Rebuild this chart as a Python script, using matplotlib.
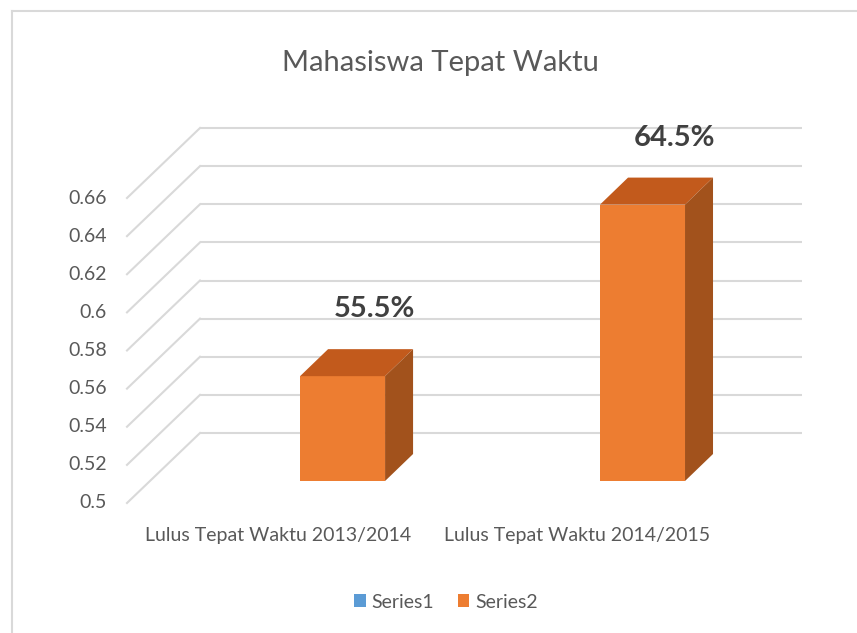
import matplotlib
matplotlib.use("Agg")
import matplotlib.pyplot as plt
from matplotlib.patches import Polygon, Patch
from matplotlib.lines import Line2D

# ---- data ----
categories = ["Lulus Tepat Waktu 2013/2014", "Lulus Tepat Waktu 2014/2015"]
series2 = [0.555, 0.645]
series2_labels = ["55.5%", "64.5%"]
yticks = [0.5, 0.52, 0.54, 0.56, 0.58, 0.6, 0.62, 0.64, 0.66]
ytick_labels = ["0.5", "0.52", "0.54", "0.56", "0.58", "0.6", "0.62", "0.64", "0.66"]
title = "Mahasiswa Tepat Waktu"
legend_names = ["Series1", "Series2"]

# ---- style ----
FW, FH = 857, 633
FRONT = "#ED7D31"
TOP = "#C25A1C"
SIDE = "#A2521C"
GRID = "#D9D9D9"
TXT = "#595959"
plt.rcParams["font.family"] = ["Lato", "DejaVu Sans"]

fig = plt.figure(figsize=(FW / 100, FH / 100), dpi=100)
# axes = plane of the bars' front faces
L, R, B, T = 150, 752, 481, 176
ax = fig.add_axes([L / FW, 1 - B / FH, (R - L) / FW, (B - T) / FH])
xlim = (-0.642, 1.365)
ylim = (0.5, 0.66)
ax.set_xlim(*xlim)
ax.set_ylim(*ylim)
ax.axis("off")
pxx = (xlim[1] - xlim[0]) / (R - L)
pxy = (ylim[1] - ylim[0]) / (B - T)

# back-wall depth offsets (pixels) relative to the bar plane
BX, BY = 50, 48
FX, FY = -23, -22  # front edge

for v, lab in zip(yticks, ytick_labels):
    ax.plot([xlim[0] + BX * pxx, xlim[1] + BX * pxx], [v + BY * pxy] * 2,
            color=GRID, lw=1.5, clip_on=False, zorder=0, solid_capstyle="butt")
    ax.plot([xlim[0] + FX * pxx, xlim[0] + BX * pxx], [v + FY * pxy, v + BY * pxy],
            color=GRID, lw=1.5, clip_on=False, zorder=0)
    ax.text(xlim[0] - 43 * pxx, v + FY * pxy, lab, ha="right", va="center",
            fontsize=14, color=TXT)

# bars with 3D look
w = 85 * pxx
dx, dy = 28 * pxx, 27 * pxy
xs = list(range(len(categories)))
ax.bar(xs, [v - ylim[0] for v in series2], bottom=ylim[0], width=w,
       color=FRONT, zorder=3, clip_on=False)
for x, v, lab in zip(xs, series2, series2_labels):
    xl, xr = x - w / 2, x + w / 2
    ax.add_patch(Polygon([(xl, v), (xr, v), (xr + dx, v + dy), (xl + dx, v + dy)],
                         closed=True, facecolor=TOP, edgecolor="none", zorder=3, clip_on=False))
    ax.add_patch(Polygon([(xr, ylim[0]), (xr + dx, ylim[0] + dy), (xr + dx, v + dy), (xr, v)],
                         closed=True, facecolor=SIDE, edgecolor="none", zorder=3, clip_on=False))
    ax.annotate(lab, xy=(x + dx, v + dy), xytext=(4 * 0.72, 40 * 0.72),
                textcoords="offset points", ha="center", va="center",
                fontsize=21, fontweight="bold", color="#404040", zorder=4)

for x, c in zip(xs, categories):
    ax.text(x - 65 * pxx, ylim[0] - 55 * pxy, c, ha="center", va="center",
            fontsize=14, color=TXT)

fig.text(440 / FW, 1 - 63 / FH, title, ha="center", va="center",
         fontsize=21, color=TXT, fontweight="normal")

handles = [Patch(facecolor="#5B9BD5"), Patch(facecolor=FRONT)]
fig.legend(handles, legend_names, loc="center", bbox_to_anchor=(446 / FW, 1 - 602 / FH),
           ncol=2, frameon=False, fontsize=14, labelcolor=TXT,
           handlelength=0.6, handleheight=0.6, handletextpad=0.3, columnspacing=1.2)

# chart frame
fig.add_artist(Line2D([12 / FW, 1], [1 - 11 / FH] * 2, color=GRID, lw=1.5))
fig.add_artist(Line2D([12 / FW] * 2, [0, 1 - 11 / FH], color=GRID, lw=1.5))

fig.savefig("out.png", dpi=100, facecolor="white")
